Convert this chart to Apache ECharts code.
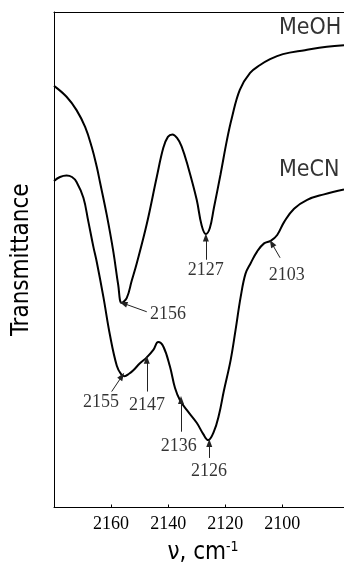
<!DOCTYPE html>
<html><head><meta charset="utf-8">
<script src="https://cdn.jsdelivr.net/npm/echarts@6/dist/echarts.min.js"></script>
<style>html,body{margin:0;padding:0;background:#fff}#c{width:344px;height:569px}</style>
</head><body><div id="c"></div>
<script>
// MeOH spectrum (wavenumber, cm-1 ; transmittance, arb. units)
const meohWave = [2180,2175.6,2172.1,2169.1,2166.8,2165.0,2163.9,2161.5,2159.2,2157.5,2156.3,2154.5,2152.8,2151.0,2147.5,2144.0,2141.7,2140.1,2138.5,2136.9,2135.3,2133.1,2130.0,2128.3,2126.8,2125.4,2124.0,2121.7,2119.4,2117.7,2114.9,2111.3,2107.8,2104.3,2099.8,2092.1,2084.4,2078.4];
const meohT    = [85.1,82.9,80.2,76.8,72.8,68.7,65.7,59.0,51.6,44.9,41.3,42.3,45.7,49.3,57.2,66.7,72.6,74.8,75.3,74.6,72.9,68.9,62.1,57.0,55.2,56.4,60.4,67.1,74.2,78.6,84.3,87.7,89.3,90.5,91.5,92.3,93.0,93.3];
// MeCN spectrum
const mecnWave = [2180,2177.9,2175.6,2173.7,2172.1,2169.7,2168.0,2166.2,2165.0,2162.7,2160.4,2158.0,2156.5,2155.3,2153.7,2152.2,2149.9,2147.5,2145.2,2143.5,2141.7,2139.4,2137.6,2135.9,2133.5,2130.0,2127.7,2126.0,2124.0,2122.2,2120.5,2118.1,2116.4,2114.6,2112.9,2111.1,2108.8,2106.4,2104.1,2101.8,2099.4,2095.9,2091.3,2085.4,2078.4];
const mecnT    = [65.9,66.7,67.0,66.7,65.7,62.5,57.8,52.6,49.5,42.5,34.8,28.6,26.9,26.5,27.0,27.7,29.1,30.3,31.8,33.4,32.5,28.5,24.1,21.7,19.7,17.1,14.8,13.6,15.3,18.7,23.5,29.8,35.8,42.5,47.2,49.3,51.7,53.3,53.8,55.0,57.6,60.3,62.1,63.2,64.2];

const xTicks = [2100, 2120, 2140, 2160];
const seriesNames = ['MeOH', 'MeCN'];
const seriesNameAt = [[2101.2, 96.8], [2101.2, 68.1]];

// peak annotations: label, arrow tip, arrow tail, label anchor (data coords)
const peakLabels = ['2156', '2127', '2103', '2155', '2147', '2136', '2126'];
const arrowTip  = [[2155.7,41.2],[2126.8,54.5],[2103.7,53.3],[2156.2,26.5],[2147.5,29.8],[2135.5,21.7],[2125.6,13.0]];
const arrowTail = [[2147.5,39.5],[2126.8,50.0],[2100.8,50.4],[2159.8,23.4],[2147.5,23.4],[2135.5,15.3],[2125.6,10.0]];
const labelAt   = [[2140.1,38.9],[2126.8,47.9],[2098.5,46.9],[2163.5,21.3],[2147.4,20.7],[2136.3,12.4],[2125.7,7.4]];

const zip = (a, b) => a.map((v, i) => [v, b[i]]);
const serif = '"Liberation Serif", "Times New Roman", serif';
const sans = '"DejaVu Sans Condensed", "Liberation Sans", Arial, sans-serif';
const X_MIN = 2078.4, X_MAX = 2180;

const chart = echarts.init(document.getElementById('c'), null, {renderer: 'canvas'});
chart.setOption({
  animation: false,
  backgroundColor: '#fff',
  grid: {left: 54, top: 12, bottom: 61.5, right: 0, containLabel: false},
  xAxis: [{
    type: 'value', min: X_MIN, max: X_MAX, inverse: true,
    axisLine: {show: true, lineStyle: {color: '#000', width: 1}},
    axisTick: {show: true, inside: true, length: 3, customValues: xTicks, lineStyle: {color: '#000'}},
    axisLabel: {show: true, customValues: xTicks, margin: 8, color: '#000', fontFamily: serif, fontSize: 18,
                formatter: v => String(v)},
    splitLine: {show: false}
  }, {
    type: 'value', min: X_MIN, max: X_MAX, inverse: true, position: 'top',
    axisLine: {show: true, lineStyle: {color: '#000', width: 1}},
    axisTick: {show: false}, axisLabel: {show: false}, splitLine: {show: false}
  }],
  yAxis: {
    type: 'value', min: 0, max: 100,
    name: 'Transmittance', nameLocation: 'middle', nameRotate: 90, nameGap: 20,
    nameTextStyle: {fontFamily: sans, fontSize: 24, color: '#000'},
    axisLine: {show: true, lineStyle: {color: '#000', width: 1}},
    axisTick: {show: false}, axisLabel: {show: false}, splitLine: {show: false}
  },
  graphic: [{
    type: 'text', x: 203, y: 553,
    style: {
      text: '{a|ν, cm}{b|-1}', align: 'center', verticalAlign: 'middle',
      rich: {
        a: {fontFamily: sans, fontSize: 24, fill: '#000'},
        b: {fontFamily: sans, fontSize: 14, fill: '#000', verticalAlign: 'top', padding: [0, 0, 12, 0]}
      }
    }
  }],
  series: [
    {name: seriesNames[0], type: 'line', data: zip(meohWave, meohT), smooth: 0.4, showSymbol: false,
     lineStyle: {color: '#000', width: 2}, silent: true},
    {name: seriesNames[1], type: 'line', data: zip(mecnWave, mecnT), smooth: 0.4, showSymbol: false,
     lineStyle: {color: '#000', width: 2}, silent: true},
    {type: 'scatter', symbolSize: 0, silent: true,
     data: seriesNameAt.map((p, i) => ({value: [p[0], p[1]], name: seriesNames[i]})),
     label: {show: true, position: 'right', distance: 0, formatter: '{b}', color: '#000', fontFamily: sans, fontSize: 23}},
    {type: 'scatter', symbolSize: 0, silent: true,
     data: labelAt.map((p, i) => ({value: [p[0], p[1]], name: peakLabels[i]})),
     label: {show: true, position: 'inside', formatter: '{b}', color: '#000', fontFamily: serif, fontSize: 18},
     markLine: {
       silent: true, symbol: ['none', 'triangle'], symbolSize: [6, 8],
       label: {show: false},
       lineStyle: {color: '#222', width: 1, type: 'solid'},
       emphasis: {disabled: true},
       data: arrowTip.map((t, i) => [{coord: arrowTail[i]}, {coord: t}])
     }}
  ]
});
</script></body></html>
